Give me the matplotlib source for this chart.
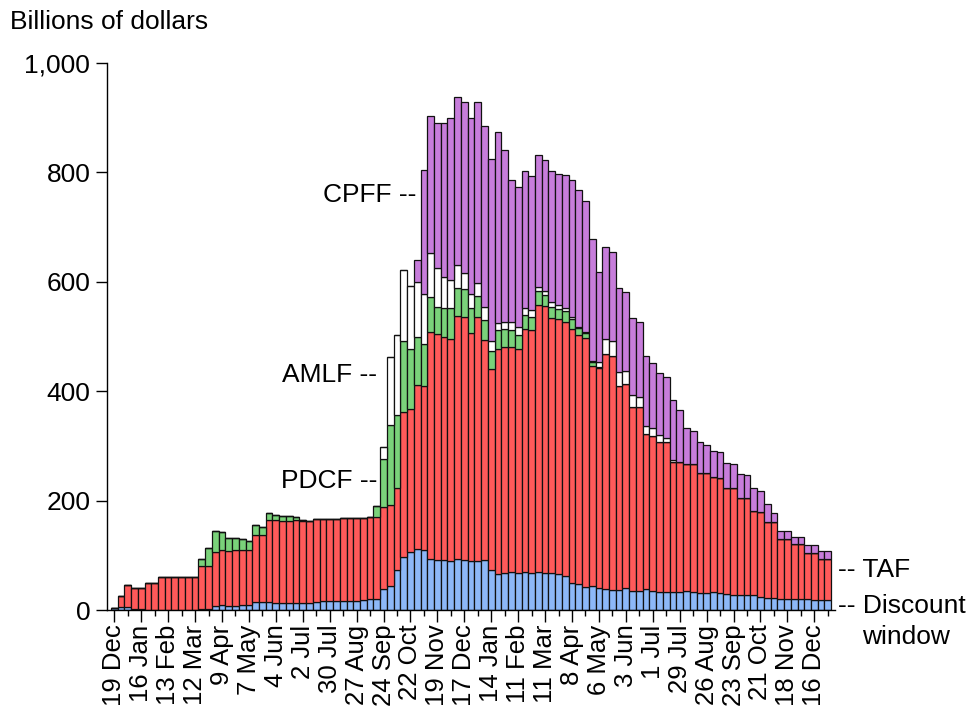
import matplotlib
matplotlib.use("Agg")
import matplotlib.pyplot as plt
from matplotlib.ticker import FixedLocator, FuncFormatter
import numpy as np

plt.rcParams['font.family'] = ['Liberation Sans', 'DejaVu Sans']

# Weekly observations, 19 Dec 2007 ... 30 Dec 2009 (107 weeks)
discount_window = [4, 5, 5, 1, 1, 0.5, 0.5, 0.5, 0.5, 0.5, 0.5, 0.5, 0.5, 1, 1, 7, 10, 8, 8, 9,
                   9, 14, 14, 15, 13, 13, 13, 13, 13, 12, 14, 16.5, 16.5, 16.5, 17, 17, 17, 18, 19.5, 21,
                   39, 44, 74, 97.6, 105.5, 111, 109, 94, 91.5, 92, 89, 93.9, 91.5, 89.6, 89.6, 91.5, 73, 66, 68, 70,
                   68, 69, 68, 69, 67, 68, 66, 62, 49, 47.6, 42.7, 44, 39.7, 38.4, 36.6, 36.6, 40.8, 35.4, 35.4, 37.9,
                   35.4, 33.5, 33.5, 32.3, 33.5, 34.8, 33.5, 30.5, 30.5, 32.3, 30.5, 28.7, 28.1, 28.1, 28.1, 26.9, 23.2, 21.9, 21.9, 19.5,
                   19.5, 19.5, 19.5, 19.5, 19, 18.5, 18.5]
taf = [0, 20, 41, 40, 40, 49.5, 49.5, 59.5, 59.5, 59.5, 59.5, 59.5, 59.5, 79, 79, 98.5, 99, 99, 101, 101,
       101, 123, 124, 150, 152, 149, 149, 151, 149, 151, 152, 150.5, 150.5, 150.5, 150.7, 151, 151.5, 151, 150, 149,
       149, 148, 148.5, 264, 261.5, 300, 300, 415, 412.2, 406.7, 406, 443.1, 443.9, 416.4, 446.9, 402.5, 367, 412, 412.6, 410.6,
       409, 444.4, 444, 489.5, 489, 465.6, 465.7, 464, 465, 455.4, 454.3, 402.3, 402.3, 429.3, 428, 373.1, 372, 336.5, 335.3, 283.5,
       282.9, 274.4, 273.2, 237.9, 236.6, 232.8, 232.9, 219.5, 219.5, 211.5, 210.3, 195, 194.4, 176.2, 176.2, 154.7, 155.4, 138.5, 138.5, 109.8,
       109.8, 100.7, 100.7, 84.2, 84.7, 74.8, 74.8]
pdcf = [0, 0, 0, 0, 0, 0, 0, 0, 0, 0, 0, 0, 0, 13, 33, 39, 33, 25, 23, 20,
        17, 18.5, 14, 13, 9, 9, 9, 5.5, 2, 0, 0, 0, 0, 0, 0, 0, 0, 0, 0, 20.8,
        87.6, 147, 133.5, 130.4, 110.4, 88, 77, 64, 51.1, 53.1, 56.8, 52, 51.2, 45.8, 37.8, 36.4, 34, 33, 32.8, 30.4,
        26, 25.6, 24.5, 23.8, 19.6, 20.1, 19.4, 20, 17.7, 12.3, 9.1, 6.7, 2, 0, 0, 0, 0, 0, 0, 0,
        0, 0, 0, 0, 0, 0, 0, 0, 0, 0, 0, 0, 0, 0, 0, 0, 0, 0, 0, 0,
        0, 0, 0, 0, 0, 0, 0]
amlf = [0, 0, 0, 0, 0, 0, 0, 0, 0, 0, 0, 0, 0, 0, 0, 0, 0, 0, 0, 0,
        0, 0, 0, 0, 0, 0, 0, 0, 0, 0, 0, 0, 0, 0, 0, 0, 0, 0, 0, 0,
        23.1, 123, 146, 130, 115.2, 100, 91.4, 79, 70.2, 56.1, 51.8, 41, 29.3, 25.6, 24.4, 23.3, 18.6, 14.5, 14, 16.4,
        14, 12.8, 12.2, 9.1, 7.9, 9.1, 6.8, 7, 4.8, 2.9, 1.9, 3, 10.2, 28, 28, 25.1, 24.9, 21.4, 19.5, 15.8,
        14.1, 12.2, 7.3, 3.8, 0.5, 0, 0, 0, 0, 0, 0, 0, 0, 0, 0, 0, 0, 0, 0, 0,
        0, 0, 0, 0, 0, 0, 0]
cpff = [0, 0, 0, 0, 0, 0, 0, 0, 0, 0, 0, 0, 0, 0, 0, 0, 0, 0, 0, 0,
        0, 0, 0, 0, 0, 0, 0, 0, 0, 0, 0, 0, 0, 0, 0, 0, 0, 0, 0, 0,
        0, 0, 0, 0, 0, 40.6, 227.4, 251.6, 265, 282.1, 296.4, 307.8, 312.1, 321.9, 329.3, 330.3, 332.4, 347.5, 314, 257.9,
        255.5, 250, 245.3, 240.9, 238.5, 239, 239.1, 242, 250, 248.8, 239, 222, 164.6, 167.7, 161, 154.7, 144.5, 140.3, 136, 127.4,
        118.8, 114, 112.8, 110.1, 95.3, 65.3, 60.4, 57.3, 51.8, 47.6, 47.6, 44.6, 43.9, 43.9, 42.1, 40.9, 39.7, 32.9, 16.5, 14.6,
        14.6, 13.9, 13.9, 15.2, 15.2, 15.2, 15.2]

tick_labels = ["19 Dec", "16 Jan", "13 Feb", "12 Mar", "9 Apr", "7 May", "4 Jun", "2 Jul", "30 Jul",
               "27 Aug", "24 Sep", "22 Oct", "19 Nov", "17 Dec", "14 Jan", "11 Feb", "11 Mar", "8 Apr",
               "6 May", "3 Jun", "1 Jul", "29 Jul", "26 Aug", "23 Sep", "21 Oct", "18 Nov", "16 Dec"]

series = [discount_window, taf, pdcf, amlf, cpff]
colors = ["#8DB8F8", "#FF5A5A", "#7AD27A", "#FFFFFF", "#C77DDB"]

W, H = 967, 710
fig = plt.figure(figsize=(W / 100, H / 100), dpi=100)
ax = fig.add_axes([107 / W, 1 - 610 / H, (835 - 107) / W, (610 - 63) / H])

n = len(discount_window)
x = np.arange(n)
bottom = np.zeros(n)
for vals, col in zip(series, colors):
    v = np.array(vals, dtype=float)
    ax.bar(x, v, bottom=bottom, width=1.0, color=col, edgecolor="#111111", linewidth=0.9)
    bottom += v

ax.set_xlim(-1.08, 107.07)
ax.set_ylim(0, 1000)

for s in ["top", "right"]:
    ax.spines[s].set_visible(False)
for s in ["left", "bottom"]:
    ax.spines[s].set_linewidth(1.0)

ax.yaxis.set_major_locator(FixedLocator([0, 200, 400, 600, 800, 1000]))
ax.yaxis.set_major_formatter(FuncFormatter(lambda v, p: f"{int(v):,}"))
ax.tick_params(axis="y", length=8, width=1.0, labelsize=19, pad=4)

major_pos = np.arange(0, n, 4)[:len(tick_labels)]
ax.set_xticks(major_pos)
ax.set_xticklabels(tick_labels, rotation=90, fontsize=18.5, va="top", ha="center")
ax.set_xticks(np.arange(2, n, 4), minor=True)
ax.tick_params(axis="x", which="major", length=8.6, width=1.0, pad=2)
ax.tick_params(axis="x", which="minor", length=4.3, width=1.0)

def ftext(px, py, s, ha="left"):
    fig.text(px / W, 1 - py / H, s, ha=ha, va="center", fontsize=19)

ftext(10, 22, "Billions of dollars")
ftext(416, 195, "CPFF --", ha="right")
ftext(377, 375, "AMLF --", ha="right")
ftext(377, 481, "PDCF --", ha="right")
ftext(838, 570, "-- TAF")
ftext(838, 606, "-- Discount")
ftext(862, 637, "window")

fig.savefig("out.png", dpi=100)
